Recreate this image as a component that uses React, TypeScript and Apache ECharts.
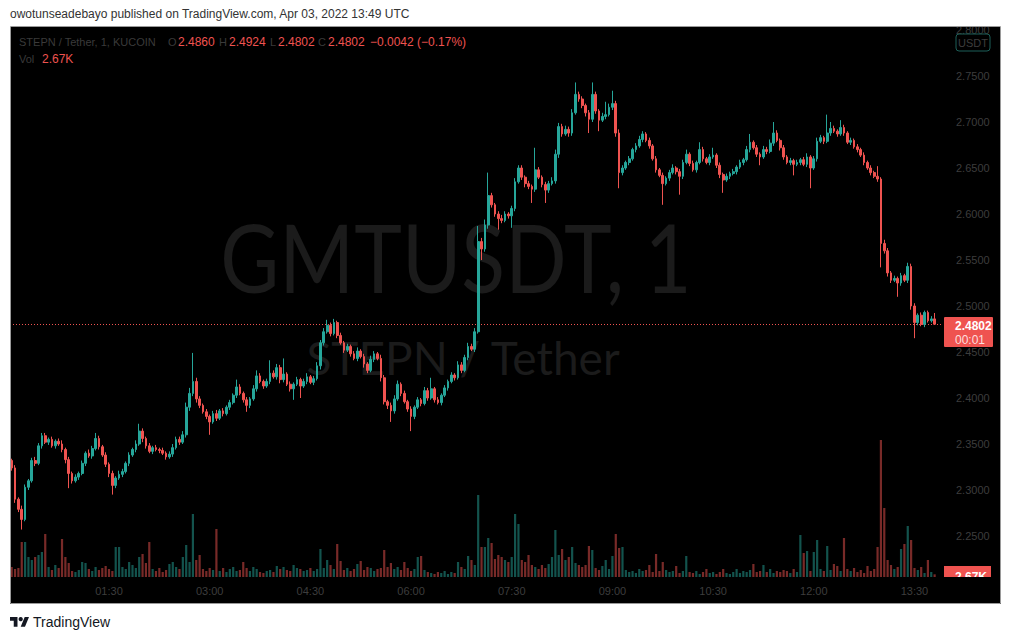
import React, { useEffect, useRef } from "react";
import * as echarts from "echarts";

// Prices are stored as 1e-4 offsets from 2.0000 (3320 -> 2.3320)
const PRICE_BASE = 2;
const PRICE_UNIT = 10000;
const firstOpen = 3320;

// 3-minute candles from 00:03 to 13:48
const closes = [
  3240, 2900, 2790, 2680, 3030, 3100, 3320, 3290, 3480, 3590,
  3520, 3550, 3480, 3530, 3500, 3440, 3330, 3180, 3100, 3140,
  3180, 3290, 3400, 3370, 3450, 3560, 3470, 3380, 3280, 3180,
  3050, 3130, 3170, 3200, 3290, 3380, 3440, 3500, 3640, 3560,
  3480, 3420, 3460, 3440, 3430, 3400, 3360, 3390, 3460, 3550,
  3520, 3600, 3900, 4050, 4180, 3990, 3920, 3850, 3800, 3740,
  3830, 3780, 3860, 3830, 3900, 3950, 4030, 4120, 4050, 3980,
  3920, 3990, 4100, 4240, 4180, 4130, 4180, 4270, 4230, 4330,
  4200, 4260, 4150, 4100, 4150, 4200, 4130, 4180, 4230, 4170,
  4210, 4350, 4600, 4720, 4790, 4700, 4820, 4680, 4600, 4520,
  4560, 4480, 4430, 4510, 4450, 4370, 4300, 4420, 4480, 4430,
  4220, 3960, 3920, 3860, 3990, 4150, 4050, 3960, 3880, 3800,
  3900, 3980, 3940, 4080, 4000, 4100, 3980, 3950, 4030, 4110,
  4180, 4250, 4220, 4360, 4300, 4440, 4560, 4530, 4720, 5700,
  5620, 5880, 6200, 6100, 6000, 5950, 5930, 6000, 5980, 6060,
  6350, 6500, 6400, 6330, 6300, 6270, 6480, 6400, 6320, 6260,
  6330, 6360, 6650, 6950, 6870, 6920, 6880, 7100, 7300, 7250,
  7180, 7100, 7030, 7300, 7120, 7020, 7060, 7080, 7160, 7200,
  6880, 6450, 6500, 6560, 6600, 6700, 6740, 6810, 6870, 6800,
  6740, 6600, 6480, 6420, 6330, 6390, 6450, 6500, 6460, 6410,
  6560, 6650, 6550, 6480, 6560, 6700, 6600, 6560, 6620, 6640,
  6530, 6430, 6370, 6410, 6440, 6460, 6510, 6560, 6590, 6700,
  6780, 6720, 6650, 6620, 6700, 6680, 6770, 6880, 6800, 6720,
  6620, 6560, 6580, 6540, 6560, 6590, 6540, 6620, 6500, 6600,
  6790, 6830, 6790, 6880, 6930, 6900, 6870, 6940, 6880, 6780,
  6800, 6730, 6700, 6640, 6560, 6500, 6450, 6410, 6380, 5680,
  5600, 5360, 5280, 5300, 5250, 5330, 5280, 5430, 5000, 4820,
  4900, 4800, 4930, 4840, 4860, 4802,
];

// wick above max(open, close), in 1e-4
const upperWicks = [
  20, 30, 20, 40, 30, 20, 30, 40, 30, 30,
  30, 20, 30, 20, 30, 40, 20, 30, 20, 30,
  20, 30, 20, 40, 30, 60, 30, 20, 30, 20,
  30, 20, 40, 30, 20, 30, 20, 40, 80, 30,
  20, 30, 20, 30, 20, 30, 20, 30, 40, 30,
  30, 40, 50, 60, 310, 40, 30, 20, 30, 20,
  30, 40, 20, 30, 20, 30, 20, 80, 30, 20,
  30, 20, 40, 60, 30, 20, 30, 140, 30, 40,
  30, 170, 20, 30, 20, 30, 20, 30, 40, 20,
  30, 40, 30, 40, 60, 30, 40, 20, 30, 20,
  30, 20, 30, 40, 20, 30, 20, 40, 30, 20,
  40, 30, 20, 30, 40, 40, 20, 30, 20, 30,
  20, 30, 20, 40, 30, 120, 20, 30, 20, 30,
  20, 30, 20, 40, 30, 30, 40, 30, 40, 170,
  40, 60, 250, 30, 20, 30, 40, 30, 20, 30,
  40, 30, 30, 20, 30, 20, 240, 30, 20, 30,
  30, 40, 50, 40, 30, 40, 30, 40, 130, 30,
  30, 20, 30, 130, 30, 20, 40, 140, 40, 140,
  30, 40, 30, 20, 30, 20, 30, 40, 30, 20,
  30, 20, 30, 20, 30, 20, 30, 40, 20, 30,
  30, 50, 20, 30, 20, 80, 30, 20, 30, 80,
  20, 30, 20, 30, 20, 30, 20, 30, 20, 40,
  90, 20, 30, 20, 40, 30, 40, 120, 30, 20,
  30, 20, 30, 20, 30, 20, 30, 40, 20, 30,
  40, 30, 20, 200, 70, 30, 20, 80, 30, 20,
  30, 20, 30, 20, 30, 20, 30, 20, 110, 20,
  40, 30, 20, 30, 20, 30, 20, 40, 30, 30,
  20, 30, 20, 20, 30, 64,
];

// wick below min(open, close), in 1e-4
const lowerWicks = [
  30, 40, 30, 110, 20, 30, 20, 30, 20, 30,
  20, 30, 20, 30, 20, 30, 40, 160, 30, 20,
  30, 20, 30, 20, 30, 20, 30, 20, 30, 40,
  100, 30, 20, 30, 20, 30, 20, 30, 20, 40,
  30, 20, 30, 20, 30, 20, 30, 20, 30, 20,
  30, 20, 30, 40, 30, 40, 30, 20, 30, 140,
  20, 30, 20, 30, 20, 30, 20, 30, 20, 30,
  70, 30, 20, 30, 20, 30, 20, 30, 20, 30,
  40, 30, 20, 30, 120, 20, 130, 20, 30, 20,
  30, 20, 40, 30, 20, 30, 20, 30, 20, 30,
  20, 30, 20, 30, 20, 40, 30, 20, 30, 20,
  40, 30, 40, 120, 30, 20, 30, 20, 30, 160,
  30, 20, 30, 20, 30, 20, 30, 20, 30, 20,
  30, 20, 30, 20, 30, 20, 30, 20, 30, 20,
  120, 30, 40, 30, 30, 120, 30, 20, 30, 130,
  30, 20, 30, 40, 30, 150, 30, 20, 30, 140,
  30, 20, 30, 40, 30, 20, 40, 30, 20, 30,
  30, 40, 150, 30, 30, 120, 20, 30, 20, 30,
  40, 170, 30, 20, 30, 20, 30, 20, 30, 20,
  30, 20, 30, 20, 230, 20, 30, 20, 30, 200,
  30, 20, 30, 20, 30, 20, 30, 20, 30, 20,
  30, 40, 140, 20, 30, 20, 30, 20, 30, 20,
  30, 20, 30, 90, 20, 30, 20, 30, 20, 30,
  30, 20, 30, 120, 20, 30, 20, 30, 220, 20,
  30, 20, 30, 20, 30, 20, 30, 20, 30, 20,
  30, 20, 30, 20, 30, 20, 30, 20, 30, 260,
  30, 40, 30, 20, 150, 30, 20, 30, 40, 170,
  30, 20, 30, 20, 20, 0,
];

// volume in K
const volumes = [
  10, 8, 9, 35, 35, 20, 17, 20, 22, 25,
  43, 10, 7, 12, 9, 38, 20, 14, 6, 5,
  7, 15, 14, 8, 6, 10, 7, 9, 11, 8,
  6, 30, 30, 10, 8, 15, 12, 9, 20, 23,
  14, 35, 8, 6, 9, 5, 7, 13, 15, 10,
  8, 20, 32, 15, 63, 17, 22, 8, 6, 9,
  7, 48, 6, 9, 5, 8, 10, 6, 7, 15,
  9, 6, 10, 8, 5, 4, 6, 7, 5, 11,
  8, 10, 7, 6, 12, 9, 8, 6, 7, 9,
  6, 8, 28, 9, 17, 12, 8, 33, 16, 7,
  9, 6, 8, 13, 16, 7, 10, 9, 6, 8,
  9, 27, 10, 14, 8, 10, 7, 15, 9, 6,
  8, 20, 21, 7, 5, 4, 3, 5, 4, 6,
  3, 5, 4, 15, 10, 8, 21, 17, 12, 82,
  30, 30, 39, 34, 18, 22, 20, 17, 15, 20,
  63, 53, 17, 15, 22, 12, 10, 8, 12, 9,
  13, 20, 47, 22, 28, 17, 20, 30, 14, 12,
  10, 12, 31, 27, 9, 7, 11, 17, 8, 21,
  43, 29, 30, 7, 5, 6, 4, 8, 6, 7,
  12, 5, 23, 6, 15, 7, 5, 6, 11, 4,
  6, 21, 5, 4, 6, 3, 5, 8, 4, 5,
  3, 5, 8, 4, 3, 5, 8, 4, 6, 5,
  7, 13, 5, 6, 12, 5, 8, 4, 6, 5,
  7, 6, 4, 8, 5, 42, 24, 26, 6, 25,
  37, 8, 6, 31, 7, 13, 11, 6, 39, 8,
  6, 9, 5, 7, 4, 11, 6, 8, 30, 137,
  69, 17, 12, 8, 10, 28, 33, 51, 37, 9,
  7, 10, 4, 17, 5, 2.67,
];

const timeTicks = ["01:30", "03:00", "04:30", "06:00", "07:30", "09:00", "10:30", "12:00", "13:30"];
const firstMinute = 3;
const stepMinutes = 3;
const emptySlots = 2;

const lastPrice = 2.4802;

const UP = "#26a69a";
const DOWN = "#ef5350";
const AXIS_TEXT = "#3d3d3d";
const DIM = "#3a3a3a";
const FONT = "'Liberation Sans', Arial, sans-serif";

const LOGO_D = "M14 22H7V11H0V4h14v18zM28 22h-8l7.5-18h8L28 22z";
echarts.graphic.registerShape("tvlogo", echarts.graphic.extendPath(LOGO_D, {}) as any);

const toPrice = (v: number) => PRICE_BASE + v / PRICE_UNIT;

function buildOption() {
  const categories: string[] = [];
  for (let i = 0; i < closes.length + emptySlots; i++) {
    const m = firstMinute + stepMinutes * i;
    const hh = String(Math.floor(m / 60)).padStart(2, "0");
    const mm = String(m % 60).padStart(2, "0");
    categories.push(`${hh}:${mm}`);
  }
  const candleData = closes.map((c, i) => {
    const o = i === 0 ? firstOpen : closes[i - 1];
    const hi = Math.max(o, c) + upperWicks[i];
    const lo = Math.min(o, c) - lowerWicks[i];
    return [toPrice(o), toPrice(c), toPrice(lo), toPrice(hi)];
  });
  const volData = volumes.map((v, i) => {
    const o = i === 0 ? firstOpen : closes[i - 1];
    const up = closes[i] >= o;
    return {
      value: v,
      itemStyle: { color: up ? "rgba(38,166,154,0.5)" : "rgba(239,83,80,0.5)" },
    };
  });

  const hdr = (x: number, y: number, text: string, fill: string, extra: any = {}) => ({
    type: "text",
    x,
    y,
    z: 30,
    style: { text, fill, fontSize: 12, fontFamily: FONT, align: "left", verticalAlign: "middle", ...extra },
  });

  const graphic: any[] = [
    // chart background
    { type: "rect", z: 0, shape: { x: 10, y: 27, width: 991, height: 577 }, style: { fill: "#000000" } },
    // watermark
    {
      type: "text", x: 456, y: 256, z: 1, scaleX: 0.85,
      style: { text: "GMTUSDT, 1", fill: "#1b1b1b", fontSize: 95, fontFamily: "Lato, sans-serif", align: "center", verticalAlign: "middle" },
    },
    {
      type: "text", x: 463, y: 357, z: 1,
      style: { text: "STEPN / Tether", fill: "#1b1b1b", fontSize: 46, fontFamily: "Lato, sans-serif", align: "center", verticalAlign: "middle" },
    },
    // white page band on top (covers clipped top axis label)
    { type: "rect", z: 25, shape: { x: 0, y: 0, width: 1012, height: 26.5 }, style: { fill: "#ffffff" } },
    // frame border
    { type: "rect", z: 26, shape: { x: 10.5, y: 26.5, width: 990, height: 577 }, style: { fill: "none", stroke: "#9a9a9a", lineWidth: 1 } },
    // published line
    {
      type: "text", x: 10, y: 14, z: 30,
      style: { text: "owotunseadebayo published on TradingView.com, Apr 03, 2022 13:49 UTC", fill: "#333333", fontSize: 12, fontFamily: FONT, align: "left", verticalAlign: "middle" },
    },
    // legend header
    hdr(19, 42, "STEPN / Tether, 1, KUCOIN", DIM, { fontSize: 11 }),
    hdr(168, 42, "O", DIM, { fontSize: 11 }),
    hdr(178, 42, "2.4860", DOWN),
    hdr(219, 42, "H", DIM, { fontSize: 11 }),
    hdr(229, 42, "2.4924", DOWN),
    hdr(270, 42, "L", DIM, { fontSize: 11 }),
    hdr(278, 42, "2.4802", DOWN),
    hdr(318, 42, "C", DIM, { fontSize: 11 }),
    hdr(328, 42, "2.4802", DOWN),
    hdr(370, 42, "\u22120.0042 (\u22120.17%)", DOWN),
    hdr(19, 59, "Vol", DIM, { fontSize: 11 }),
    hdr(42, 59, "2.67K", DOWN),
    // USDT currency box
    { type: "rect", z: 28, shape: { x: 956, y: 34, width: 34, height: 17, r: 3 }, style: { fill: "#000000", stroke: "#1d5f58", lineWidth: 1 } },
    { type: "text", x: 973, y: 42.5, z: 29, style: { text: "USDT", fill: "#3d3d3d", fontSize: 11, fontFamily: FONT, align: "center", verticalAlign: "middle" } },
    // last price label
    { type: "rect", z: 28, shape: { x: 944, y: 317, width: 49, height: 30, r: 1 }, style: { fill: DOWN } },
    { type: "text", x: 955, y: 326, z: 29, style: { text: "2.4802", fill: "#ffffff", fontSize: 12, fontWeight: "bold", fontFamily: FONT, align: "left", verticalAlign: "middle" } },
    { type: "text", x: 955, y: 340, z: 29, style: { text: "00:01", fill: "rgba(255,255,255,0.82)", fontSize: 12, fontFamily: FONT, align: "left", verticalAlign: "middle" } },
    // last volume label
    { type: "rect", z: 28, shape: { x: 944, y: 566, width: 47, height: 16 }, style: { fill: DOWN } },
    { type: "text", x: 955, y: 577, z: 29, style: { text: "2.67K", fill: "#ffffff", fontSize: 12, fontWeight: "bold", fontFamily: FONT, align: "left", verticalAlign: "middle" } },
    { type: "rect", z: 29.5, shape: { x: 943, y: 577, width: 52, height: 9 }, style: { fill: "#000000" } },
    // bottom brand
    { type: "tvlogo", x: 10, y: 614.9, scaleX: 0.535, scaleY: 0.535, z: 30, style: { fill: "#131722" } },
    { type: "circle", z: 30, shape: { cx: 20.7, cy: 619.2, r: 2.14 }, style: { fill: "#131722" } },
    {
      type: "text", x: 33, y: 622, z: 30,
      style: { text: "TradingView", fill: "#131722", fontSize: 14, fontFamily: FONT, align: "left", verticalAlign: "middle" },
    },
  ];

  return {
    animation: false,
    backgroundColor: "#ffffff",
    grid: [
      { left: 10, right: 69, top: 30, bottom: 58 },
      { left: 10, right: 69, top: 437, bottom: 63 },
    ],
    xAxis: [
      {
        type: "category", gridIndex: 0, data: categories, boundaryGap: true, z: 10,
        axisLine: { show: false }, axisTick: { show: false }, axisLabel: { show: false }, splitLine: { show: false },
      },
      {
        type: "category", gridIndex: 1, data: categories, boundaryGap: true, z: 10,
        axisLine: { show: false }, axisTick: { show: false }, splitLine: { show: false },
        axisLabel: {
          color: AXIS_TEXT, fontSize: 11, fontFamily: FONT, margin: 8,
          interval: (_idx: number, val: string) => timeTicks.includes(val),
        },
      },
    ],
    yAxis: [
      {
        type: "value", gridIndex: 0, position: "right", min: 2.2, max: 2.8, interval: 0.05, z: 10,
        splitLine: { show: false }, axisLine: { show: false }, axisTick: { show: false },
        axisLabel: {
          color: AXIS_TEXT, fontSize: 11, fontFamily: FONT, margin: 13, showMinLabel: false,
          formatter: (v: number) => v.toFixed(4),
        },
      },
      { type: "value", gridIndex: 1, min: 0, max: 140, show: false },
    ],
    series: [
      {
        type: "bar", xAxisIndex: 1, yAxisIndex: 1, data: volData, barWidth: 2.2, z: 3,
      },
      {
        type: "candlestick", xAxisIndex: 0, yAxisIndex: 0, data: candleData, barWidth: 2.2, z: 5,
        itemStyle: { color: UP, color0: DOWN, borderColor: UP, borderColor0: DOWN, borderWidth: 1 },
        markLine: {
          silent: true, symbol: ["none", "none"], z: 4,
          label: { show: false },
          lineStyle: { color: DOWN, width: 1, type: [1, 2] },
          data: [{ yAxis: lastPrice }],
        },
      },
    ],
    graphic,
  };
}

export default function App() {
  const ref = useRef<HTMLDivElement>(null);
  useEffect(() => {
    if (!ref.current) return;
    const chart = echarts.init(ref.current, undefined, { renderer: "svg" });
    chart.setOption(buildOption() as any);
    return () => chart.dispose();
  }, []);
  return (
    <div style={{ position: "fixed", left: 0, top: 0, width: 1012, height: 640, background: "#ffffff" }}>
      <div ref={ref} style={{ width: 1012, height: 640 }} />
    </div>
  );
}
